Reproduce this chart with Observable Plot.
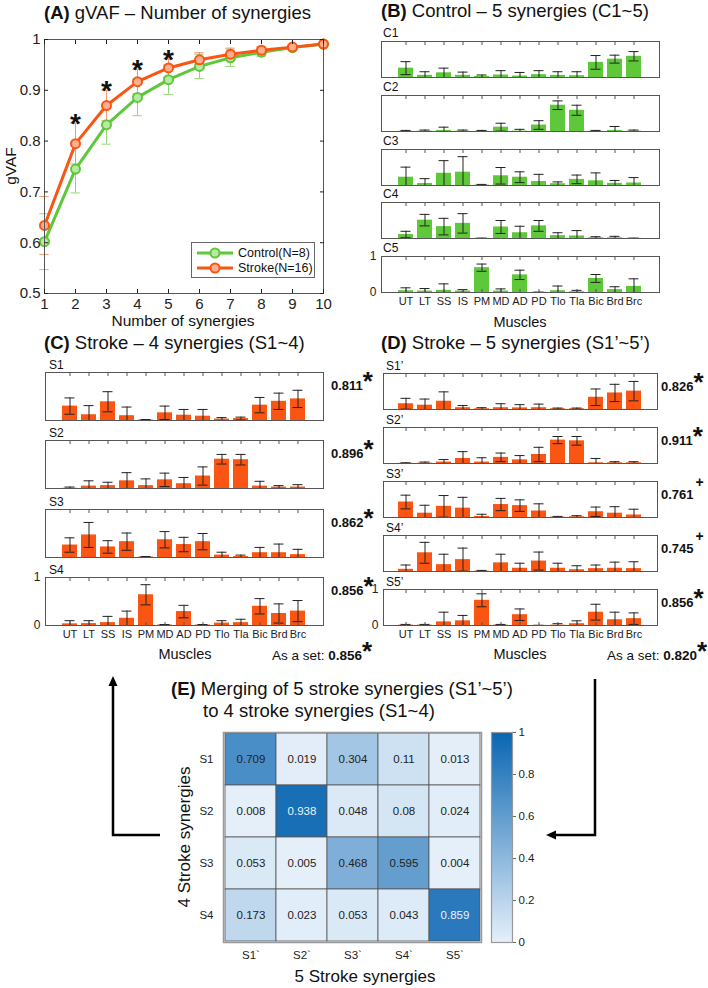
<!DOCTYPE html>
<html><head><meta charset="utf-8">
<script src="https://cdn.jsdelivr.net/npm/d3@7"></script>
<script src="https://cdn.jsdelivr.net/npm/@observablehq/plot@0.6"></script>
<style>
body{margin:0;background:#fff;}
#root{position:relative;width:708px;height:988px;font-family:"Liberation Sans",Arial,sans-serif;color:#111;overflow:hidden;background:#fff}
.abs{position:absolute;}
.t{position:absolute;white-space:nowrap;line-height:1;transform:translateY(-50%);}
</style></head><body><div id="root"></div>
<script>
// ---------------- DATA ----------------
const nSyn = [1,2,3,4,5,6,7,8,9,10];
const controlGVAF = [0.602,0.745,0.832,0.886,0.921,0.947,0.964,0.975,0.984,0.991];
const controlSD   = [0.055,0.047,0.038,0.036,0.029,0.024,0.017,0.008,0.004,0.002];
const strokeGVAF  = [0.634,0.795,0.870,0.917,0.944,0.960,0.971,0.979,0.985,0.991];
const strokeSD    = [0.057,0.040,0.030,0.024,0.018,0.014,0.012,0.007,0.004,0.002];
const sigSyn = [2,3,4,5];
const sigY   = [0.848,0.912,0.954,0.974];
const gvafTicks = [0.5,0.6,0.7,0.8,0.9,1];

const muscles = ["UT","LT","SS","IS","PM","MD","AD","PD","Tlo","Tla","Bic","Brd","Brc"];

const controlNames = ["C1","C2","C3","C4","C5"];
const controlW = [
  [0.26,0.06,0.13,0.06,0.03,0.07,0.04,0.08,0.06,0.05,0.42,0.51,0.59],
  [0.005,0.01,0.03,0.01,0.005,0.12,0.01,0.18,0.73,0.59,0.005,0.03,0.01],
  [0.23,0.055,0.34,0.37,0.01,0.27,0.23,0.11,0.05,0.17,0.13,0.06,0.07],
  [0.11,0.51,0.33,0.42,0.005,0.32,0.16,0.35,0.08,0.07,0.02,0.02,0.005],
  [0.05,0.04,0.06,0.04,0.69,0.04,0.49,0.005,0.05,0.02,0.39,0.08,0.17]
];
const controlE = [
  [0.18,0.10,0.13,0.09,0.04,0.12,0.10,0.11,0.10,0.11,0.19,0.11,0.13],
  [0.025,0.03,0.09,0.03,0.025,0.11,0.05,0.12,0.12,0.14,0.025,0.11,0.03],
  [0.28,0.135,0.35,0.43,0.02,0.23,0.15,0.20,0.05,0.12,0.22,0.08,0.15],
  [0.09,0.16,0.23,0.27,0.005,0.18,0.18,0.15,0.08,0.15,0.03,0.04,0.005],
  [0.08,0.07,0.18,0.04,0.10,0.06,0.13,0.005,0.13,0.04,0.11,0.08,0.21]
];

const stroke4Names = ["S1","S2","S3","S4"];
const stroke4W = [
  [0.30,0.12,0.39,0.10,0.01,0.16,0.11,0.09,0.03,0.04,0.32,0.40,0.45],
  [0.005,0.05,0.06,0.16,0.06,0.18,0.10,0.26,0.61,0.60,0.05,0.03,0.03],
  [0.26,0.47,0.22,0.33,0.01,0.37,0.27,0.33,0.05,0.02,0.10,0.10,0.06],
  [0.035,0.04,0.06,0.15,0.64,0.01,0.29,0.01,0.05,0.06,0.40,0.25,0.30]
];
const stroke4E = [
  [0.17,0.19,0.21,0.18,0.01,0.14,0.12,0.14,0.03,0.03,0.16,0.17,0.18],
  [0.025,0.11,0.07,0.17,0.14,0.14,0.13,0.19,0.10,0.11,0.10,0.03,0.05],
  [0.15,0.26,0.13,0.18,0.01,0.17,0.15,0.17,0.06,0.03,0.11,0.18,0.11],
  [0.065,0.06,0.13,0.15,0.21,0.01,0.13,0.01,0.05,0.07,0.16,0.20,0.22]
];
const stroke4Sim  = ["0.811","0.896","0.862","0.856"];
const stroke4Sig  = ["*","*","*","*"];
const stroke4Set  = "0.856";

const stroke5Names = ["S1\u2019","S2\u2019","S3\u2019","S4\u2019","S5\u2019"];
const stroke5W = [
  [0.16,0.12,0.23,0.05,0.02,0.05,0.045,0.05,0.02,0.02,0.34,0.46,0.51],
  [0.005,0.01,0.04,0.14,0.04,0.17,0.10,0.25,0.65,0.63,0.02,0.02,0.02],
  [0.43,0.12,0.31,0.26,0.03,0.36,0.33,0.18,0.01,0.02,0.16,0.12,0.07],
  [0.06,0.52,0.19,0.33,0.01,0.24,0.09,0.29,0.09,0.05,0.08,0.09,0.08],
  [0.01,0.01,0.10,0.13,0.70,0.01,0.30,0.003,0.01,0.05,0.37,0.16,0.19]
];
const stroke5E = [
  [0.15,0.17,0.26,0.06,0.03,0.11,0.09,0.10,0.02,0.02,0.23,0.24,0.27],
  [0.015,0.03,0.07,0.19,0.12,0.12,0.12,0.20,0.10,0.12,0.12,0.03,0.03],
  [0.19,0.22,0.30,0.30,0.06,0.17,0.16,0.20,0.02,0.03,0.13,0.18,0.16],
  [0.12,0.29,0.29,0.32,0.02,0.24,0.14,0.25,0.14,0.11,0.10,0.17,0.19],
  [0.02,0.02,0.27,0.15,0.18,0.02,0.16,0.003,0.04,0.08,0.22,0.21,0.16]
];
const stroke5Sim = ["0.826","0.911","0.761","0.745","0.856"];
const stroke5Sig = ["*","*","+","+","*"];
const stroke5Set = "0.820";

const mergeRows = ["S1","S2","S3","S4"];
const mergeCols = ["S1`","S2`","S3`","S4`","S5`"];
const mergeVals = [
  [0.709,0.019,0.304,0.11,0.013],
  [0.008,0.938,0.048,0.08,0.024],
  [0.053,0.005,0.468,0.595,0.004],
  [0.173,0.023,0.053,0.043,0.859]
];
const colorbarTicks = [0,0.2,0.4,0.6,0.8,1];

// ---------------- STYLE ----------------
const FONT = "'Liberation Sans', Arial, sans-serif";
const GREEN = "#5fc73a", GREEN_LIGHT = "#93d874";
const ORANGE = "#fa5512", ORANGE_LIGHT = "#f39a6e";
const BOXC = "#555";
const root = document.getElementById("root");
const fmt = d3.format("~g");

function place(el, left, top) {
  const d = document.createElement("div");
  d.className = "abs"; d.style.left = left + "px"; d.style.top = top + "px";
  d.appendChild(el); root.appendChild(d); return d;
}
function txt(html, x, y, size, extra = {}) {
  const d = document.createElement("div");
  d.className = "t"; d.innerHTML = html;
  d.style.left = x + "px"; d.style.top = y + "px"; d.style.fontSize = size + "px";
  if (extra.center) d.style.transform = "translate(-50%,-50%)";
  if (extra.right) d.style.transform = "translate(-100%,-50%)";
  if (extra.rotate) { d.style.transform = "translate(-50%,-50%) rotate(-90deg)"; }
  root.appendChild(d); return d;
}

// ---------------- PANEL A ----------------
{
  const ctrl = nSyn.map((n,i)=>({n, m: controlGVAF[i], s: controlSD[i]}));
  const strk = nSyn.map((n,i)=>({n, m: strokeGVAF[i], s: strokeSD[i]}));
  const sig = sigSyn.map((n,i)=>({n, y: sigY[i]}));
  const errMarks = (rows, c) => [
    Plot.ruleX(rows, {x:"n", y1:d=>d.m-d.s, y2:d=>d.m+d.s, stroke:c, strokeWidth:1}),
    Plot.ruleY(rows, {y:d=>d.m+d.s, x1:d=>d.n-0.15, x2:d=>d.n+0.15, stroke:c, strokeWidth:1}),
    Plot.ruleY(rows, {y:d=>d.m-d.s, x1:d=>d.n-0.15, x2:d=>d.n+0.15, stroke:c, strokeWidth:1})
  ];
  const p = Plot.plot({
    width: 343, height: 318, marginLeft: 44, marginTop: 39, marginRight: 20, marginBottom: 25,
    style: {fontFamily: FONT, fontSize: "15px", color: "#222", background: "transparent"},
    x: {domain: [1,10], label: null, axis: null},
    y: {domain: [0.5,1], label: null, axis: null},
    marks: [
      ...errMarks(ctrl, GREEN_LIGHT),
      ...errMarks(strk, ORANGE_LIGHT),
      Plot.line(ctrl, {x:"n", y:"m", stroke:GREEN, strokeWidth:3}),
      Plot.dot(ctrl, {x:"n", y:"m", r:4.5, stroke:GREEN, strokeWidth:2, fill:"#b9eaa3"}),
      Plot.line(strk, {x:"n", y:"m", stroke:ORANGE, strokeWidth:3}),
      Plot.dot(strk, {x:"n", y:"m", r:4.5, stroke:ORANGE, strokeWidth:2, fill:"#fcb08f"}),
      Plot.text(sig, {x:"n", y:"y", text:()=>"*", fontSize:28, fontWeight:"bold", fill:"#111", dy:7}),
      Plot.frame({stroke: BOXC}),
      Plot.axisX({anchor:"bottom", ticks: nSyn, tickSize:-4, tickPadding:9, label:null, tickFormat: fmt, fontSize:15}),
      Plot.axisX({anchor:"top", ticks: nSyn, tickSize:-4, tickFormat:()=>"", label:null}),
      Plot.axisY({anchor:"left", ticks: gvafTicks, tickSize:-4, tickPadding:8, label:null, tickFormat: fmt, fontSize:15}),
      Plot.axisY({anchor:"right", ticks: gvafTicks, tickSize:-4, tickFormat:()=>"", label:null})
    ]
  });
  place(p, 0, 0);
  txt("<b>(A)</b> gVAF \u2013 Number of synergies", 44, 13, 18.5);
  txt("Number of synergies", 183, 321, 15.5, {center:true});
  txt("gVAF", 11, 166, 15.5, {rotate:true});
  // legend
  const lg = document.createElement("div");
  lg.style.cssText = "width:122px;height:34px;border:1px solid #666;background:#fff;position:relative;font-size:12.5px";
  const entry = (label, c, fillc, y) => `<svg style="position:absolute;left:3px;top:${y-6}px" width="40" height="12"><line x1="2" x2="38" y1="6" y2="6" stroke="${c}" stroke-width="3"/><circle cx="20" cy="6" r="4.5" stroke="${c}" stroke-width="2" fill="${fillc}"/></svg><div style="position:absolute;left:46px;top:${y}px;transform:translateY(-50%);line-height:1;white-space:nowrap">${label}</div>`;
  lg.innerHTML = entry("Control(N=8)", GREEN, "#b9eaa3", 10) + entry("Stroke(N=16)", ORANGE, "#fcb08f", 25);
  place(lg, 191, 242);
}

// ---------------- BAR PANELS ----------------
function barPanel(frameLeft, frameTop, frameW, frameH, vals, errs, color, bottom) {
  const rows = muscles.map((m,i)=>({m, v: vals[i], e: errs[i]}));
  const mL = 24, mR = 4, mT = 9, mB = bottom ? 24 : 2;
  const marks = [
    Plot.barY(rows, {x:"m", y:"v", fill: color, clip: true}),
    Plot.ruleX(rows, {x:"m", y1:d=>d.v-d.e, y2:d=>d.v+d.e, stroke:"#222", strokeWidth:1, clip:true}),
    Plot.tickY(rows, {x:"m", y:d=>d.v+d.e, insetLeft:2.5, insetRight:2.5, stroke:"#222", strokeWidth:1, clip:true}),
    Plot.tickY(rows, {x:"m", y:d=>d.v-d.e, insetLeft:2.5, insetRight:2.5, stroke:"#222", strokeWidth:1, clip:true}),
    Plot.frame({stroke: BOXC}),
    Plot.axisX({anchor:"top", tickSize:-3, tickFormat:()=>"", label:null, stroke: BOXC})
  ];
  if (bottom) {
    marks.push(Plot.axisX({anchor:"bottom", tickSize:-3, tickPadding:8, label:null, stroke: BOXC, fontSize:11}));
    marks.push(Plot.axisY({anchor:"left", ticks:[0,1], tickSize:0, tickPadding:5, label:null, tickFormat: fmt, fontSize:12}));
  }
  const p = Plot.plot({
    width: frameW + mL + mR, height: frameH + mT + mB,
    marginLeft: mL, marginRight: mR, marginTop: mT, marginBottom: mB,
    style: {fontFamily: FONT, fontSize: "11px", color: "#222", background: "transparent"},
    x: {type:"band", domain: muscles, paddingInner: 0.2, paddingOuter: 0.6, label:null, axis:null},
    y: {domain:[0,1], label:null, axis:null},
    marks
  });
  place(p, frameLeft - mL, frameTop - mT);
}

// Panel B
txt("<b>(B)</b> Control \u2013 5 synergies (C1~5)", 381, 11, 18.5);
controlNames.forEach((name, i) => {
  const top = Math.round(41 + i * 53.75);
  barPanel(381, top, 278, 36, controlW[i], controlE[i], GREEN, i === controlNames.length - 1);
  txt(name, 383, top - 8, 12);
});
txt("Muscles", 520, 322, 14.5, {center:true});

// Panel C
txt("<b>(C)</b> Stroke \u2013 4 synergies (S1~4)", 44, 343, 18.5);
stroke4Names.forEach((name, i) => {
  const top = Math.round(372 + i * 68.4);
  barPanel(45, top, 278, 48, stroke4W[i], stroke4E[i], ORANGE, i === stroke4Names.length - 1);
  txt(name, 49, top - 7, 12);
  txt(`<b style="font-size:13px">${stroke4Sim[i]}</b><b style="font-size:26px;line-height:0">${stroke4Sig[i]}</b>`, 331, top + 13, 13);
});
txt("Muscles", 185, 654, 14.5, {center:true});
txt(`As a set: <b>${stroke4Set}</b><b style="font-size:26px;line-height:0">*</b>`, 272, 656, 13.5);

// Panel D
txt("<b>(D)</b> Stroke \u2013 5 synergies (S1\u2019~5\u2019)", 381, 343, 18.5);
stroke5Names.forEach((name, i) => {
  const top = 373 + i * 54;
  barPanel(383, top, 274, 36, stroke5W[i], stroke5E[i], ORANGE, i === stroke5Names.length - 1);
  txt(name, 386, top - 7, 12);
  const sigHtml = stroke5Sig[i] === "*"
    ? `<b style="font-size:26px;line-height:0">*</b>`
    : `<b style="font-size:14px;line-height:0;position:relative;top:-12px;left:2px">+</b>`;
  txt(`<b style="font-size:13px">${stroke5Sim[i]}</b>${sigHtml}`, 661, top + 13, 13);
});
txt("Muscles", 520, 654, 14.5, {center:true});
txt(`As a set: <b>${stroke5Set}</b><b style="font-size:26px;line-height:0">*</b>`, 607, 656, 13.5);

// ---------------- PANEL E ----------------
{
  const color = {type:"linear", domain:[0,1], range:["#e6f0fa","#0a66b2"]};
  const cells = [];
  mergeRows.forEach((r,i)=>mergeCols.forEach((c,j)=>cells.push({r, c, v: mergeVals[i][j]})));
  const mL = 40, mT = 2, mR = 2, mB = 24;
  const p = Plot.plot({
    width: 258 + mL + mR, height: 210 + mT + mB,
    marginLeft: mL, marginTop: mT, marginRight: mR, marginBottom: mB,
    style: {fontFamily: FONT, fontSize: "11.5px", color: "#222", background: "transparent"},
    x: {type:"band", domain: mergeCols, padding: 0, label:null, axis:null},
    y: {type:"band", domain: mergeRows, padding: 0, label:null, axis:null},
    color,
    marks: [
      Plot.cell(cells, {x:"c", y:"r", fill:"v", stroke:"#555", strokeWidth:0.8}),
      Plot.text(cells, {x:"c", y:"r", text: d => String(d.v), fill: d => d.v > 0.8 ? "#e8f2fb" : "#222", fontSize: 11.5}),
      Plot.frame({stroke:"#999", strokeWidth:1.5}),
      Plot.axisX({anchor:"bottom", tickSize:0, tickPadding:8, label:null, fontSize:11.5}),
      Plot.axisY({anchor:"left", tickSize:0, tickPadding:10, label:null, fontSize:11.5})
    ]
  });
  place(p, 223 - mL, 732 - mT);

  const cbL = 2, cbR = 30, cbT = 8, cbB = 8;
  const cb = Plot.plot({
    width: 21 + cbL + cbR, height: 210 + cbT + cbB,
    marginLeft: cbL, marginRight: cbR, marginTop: cbT, marginBottom: cbB,
    style: {fontFamily: FONT, fontSize: "11.5px", color: "#222", background: "transparent"},
    x: {domain:[0,1], axis:null, label:null},
    y: {domain:[0,1], axis:null, label:null},
    color,
    marks: [
      Plot.raster({x1:0, x2:1, y1:0, y2:1, fill:(x,y)=>y, width:4, height:210, imageRendering:"auto"}),
      Plot.frame({stroke:"#999", strokeWidth:1.2}),
      Plot.axisY({anchor:"right", ticks: colorbarTicks, tickSize:3, tickPadding:3, label:null, tickFormat: fmt, stroke:"#666", fontSize:11.5})
    ]
  });
  place(cb, 491 - cbL, 732 - cbT);

  txt("<b>(E)</b> Merging of 5 stroke synergies (S1\u2019~5\u2019)", 171, 689, 18.5);
  txt("to 4 stroke synergies (S1~4)", 203, 711, 18.5);
  txt("5 Stroke synergies", 365, 976, 17, {center:true});
  txt("4 Stroke synergies", 184, 837, 17, {rotate:true});
}

// ---------------- ARROWS (annotation) ----------------
{
  const ns = "http://www.w3.org/2000/svg";
  const svg = document.createElementNS(ns, "svg");
  svg.setAttribute("width", 708); svg.setAttribute("height", 988);
  svg.style.cssText = "position:absolute;left:0;top:0;pointer-events:none";
  svg.innerHTML = `
    <polyline points="160,835 113,835 113,684" fill="none" stroke="#000" stroke-width="2.5"/>
    <polygon points="113,676 108.5,686 117.5,686" fill="#000"/>
    <polyline points="595,679 595,835 555,835" fill="none" stroke="#000" stroke-width="2.5"/>
    <polygon points="546,835 556,830.5 556,839.5" fill="#000"/>`;
  root.appendChild(svg);
}
</script></body></html>
